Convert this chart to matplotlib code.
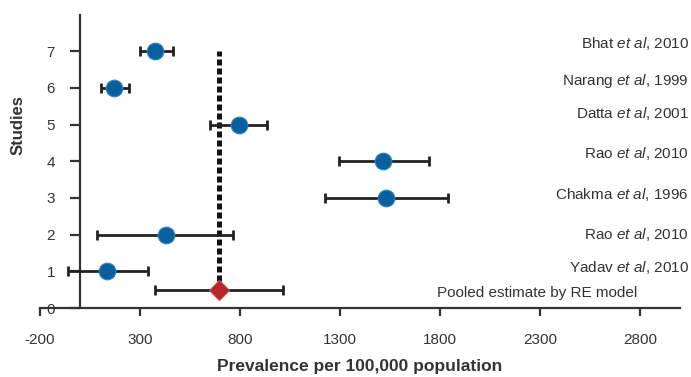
import matplotlib
matplotlib.use("Agg")
import matplotlib.pyplot as plt

plt.rcParams['font.family'] = ['Liberation Sans', 'DejaVu Sans']
plt.rcParams['axes.unicode_minus'] = False
plt.rcParams['mathtext.fontset'] = 'custom'
plt.rcParams['mathtext.rm'] = 'Liberation Sans'
plt.rcParams['mathtext.it'] = 'Liberation Sans:italic'

studies = ["Bhat", "Narang", "Datta", "Rao", "Chakma", "Rao", "Yadav"]
years = ["2010", "1999", "2001", "2010", "1996", "2010", "2010"]
ypos = [7, 6, 5, 4, 3, 2, 1]
est = [375, 170, 795, 1515, 1530, 430, 135]
lo = [300, 105, 650, 1295, 1225, 85, -60]
hi = [465, 245, 935, 1745, 1840, 765, 340]
label_y = [7.2, 6.2, 5.3, 4.2, 3.1, 2.0, 1.1]

pooled_y = 0.5
pooled_est = 695
pooled_lo = 375
pooled_hi = 1015
pooled_label = "Pooled estimate by RE model"

xticks = [-200, 300, 800, 1300, 1800, 2300, 2800]
yticks = [0, 1, 2, 3, 4, 5, 6, 7]

fig = plt.figure(figsize=(6.91, 3.77), dpi=100)
ax = fig.add_axes([40/691, 1-308/377, 640/691, (308-14.5)/377])
ax.set_xlim(-200, 3000)
ax.set_ylim(0, 8)

# dotted reference line
ax.plot([pooled_est, pooled_est], [pooled_y, 7], color='#111111', lw=3.6,
        linestyle=(0, (1.2, 0.6)), solid_capstyle='butt', zorder=2)

for y, e, l, h in zip(ypos, est, lo, hi):
    ax.errorbar(e, y, xerr=[[e - l], [h - e]], fmt='none', ecolor='#222222',
                elinewidth=2, capsize=3.5, capthick=2, zorder=3)
    ax.plot(e, y, 'o', color='#0a609e', markersize=12, markeredgecolor='#2d86c0',
            markeredgewidth=0.8, zorder=4)

ax.errorbar(pooled_est, pooled_y, xerr=[[pooled_est - pooled_lo], [pooled_hi - pooled_est]],
            fmt='none', ecolor='#222222', elinewidth=2, capsize=3.5, capthick=2, zorder=3)
ax.plot(pooled_est, pooled_y, 'D', color='#b4262c', markersize=10.5, markeredgecolor='#c8484c',
        markeredgewidth=0.8, zorder=4)

for s, yr, ly in zip(studies, years, label_y):
    ax.text(3045, ly, s + r" $\it{et\ al}$, " + yr, ha='right', va='center',
            fontsize=11, color='#333333')
ax.text(2285, 0.4, pooled_label, ha='center', va='center', fontsize=11, color='#333333')

ax.spines['top'].set_visible(False)
ax.spines['right'].set_visible(False)
ax.spines['left'].set_position(('data', 0))
ax.spines['left'].set_linewidth(1.6)
ax.spines['bottom'].set_linewidth(1.6)
ax.spines['left'].set_color('#333333')
ax.spines['bottom'].set_color('#333333')

ax.set_xticks(xticks)
ax.set_yticks(yticks)
ax.tick_params(axis='x', direction='out', length=6, width=1.6, colors='#333333',
               labelsize=11, pad=12)
ax.tick_params(axis='y', direction='out', length=7, width=1.6, colors='#333333',
               labelsize=11, pad=11)

ax.set_xlabel("Prevalence per 100,000 population", fontsize=12.5, fontweight='bold',
              color='#333333', labelpad=9)
fig.text(18/691, 1-125/377, "Studies", rotation=90, fontsize=12, fontweight='bold',
         color='#333333', ha='center', va='center')

fig.savefig("out.png", dpi=100)
